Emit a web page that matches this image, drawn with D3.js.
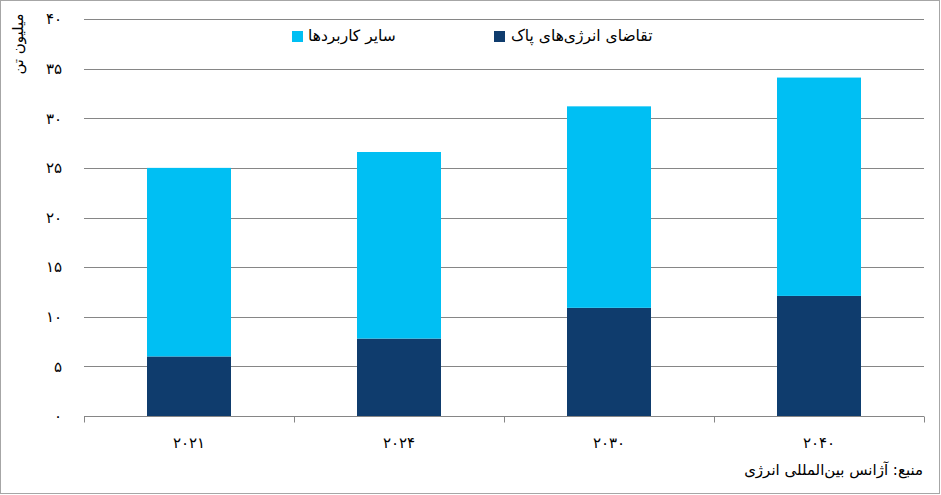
<!DOCTYPE html>
<html>
<head>
<meta charset="utf-8">
<script src="https://cdn.jsdelivr.net/npm/d3@7"></script>
<style>
  html, body { margin: 0; padding: 0; background: #fff; }
  svg { display: block; font-family: "DejaVu Sans", sans-serif; }
</style>
</head>
<body>
<svg id="chart" width="941" height="495"></svg>
<script>
// ---- data ----
const categories = ["2021", "2024", "2030", "2040"];
const cleanEnergy = [6.0, 7.8, 10.9, 12.1];     // تقاضای انرژی‌های پاک
const otherUses   = [19.0, 18.8, 20.3, 22.0];   // سایر کاربردها
const yTicks = [0, 5, 10, 15, 20, 25, 30, 35, 40];
const seriesNames = ["تقاضای انرژی‌های پاک", "سایر کاربردها"];
const yTitle = "میلیون تن";
const sourceText = "منبع: آژانس بین‌المللی انرژی";

const colors = { clean: "#0F3C6D", other: "#00BFF3" };
const faDigits = s => String(s).replace(/\d/g, d => "۰۱۲۳۴۵۶۷۸۹"[d]);

const svg = d3.select("#chart");
const W = 941, H = 495;
const m = { left: 84, right: 17, top: 19, bottom: 79 };

// border
svg.append("rect").attr("x", 0.5).attr("y", 0.5).attr("width", W - 2).attr("height", H - 2)
  .attr("fill", "#fff").attr("stroke", "#a6a6a6").attr("stroke-width", 1);

const x = d3.scaleBand().domain(categories)
  .range([m.left, W - m.right]).paddingInner(0.6).paddingOuter(0.3);
const y = d3.scaleLinear().domain([0, 40]).range([H - m.bottom, m.top]);

// gridlines
svg.append("g").selectAll("line").data(yTicks.filter(d => d > 0)).join("line")
  .attr("x1", m.left).attr("x2", W - m.right)
  .attr("y1", d => Math.round(y(d)) + 0.5).attr("y2", d => Math.round(y(d)) + 0.5)
  .attr("stroke", "#868686").attr("stroke-width", 1);

// y tick labels
svg.append("g").selectAll("text").data(yTicks).join("text")
  .attr("x", 62).attr("y", d => y(d)).attr("dy", "0.35em")
  .attr("text-anchor", "end").attr("font-size", 15).attr("fill", "#000")
  .text(d => faDigits(d));

// stacked bars
const rows = categories.map((c, i) => ({ cat: c, clean: cleanEnergy[i], other: otherUses[i] }));
const stack = d3.stack().keys(["clean", "other"])(rows);
svg.append("g").selectAll("g").data(stack).join("g")
  .attr("fill", d => colors[d.key])
  .selectAll("rect").data(d => d).join("rect")
  .attr("x", d => x(d.data.cat)).attr("width", x.bandwidth())
  .attr("y", d => y(d[1])).attr("height", d => y(d[0]) - y(d[1]));

// x axis
const xAxisY = Math.round(y(0)) + 0.5;
svg.append("line").attr("x1", m.left).attr("x2", W - m.right)
  .attr("y1", xAxisY).attr("y2", xAxisY).attr("stroke", "#868686");
const step = x.step();
const boundaries = d3.range(categories.length + 1).map(i => m.left + i * step);
svg.append("g").selectAll("line").data(boundaries).join("line")
  .attr("x1", d => Math.round(d) + 0.5).attr("x2", d => Math.round(d) + 0.5)
  .attr("y1", xAxisY).attr("y2", xAxisY + 6).attr("stroke", "#868686");
svg.append("g").selectAll("text").data(categories).join("text")
  .attr("x", d => x(d) + x.bandwidth() / 2).attr("y", 443).attr("dy", "0.35em")
  .attr("text-anchor", "middle").attr("font-size", 15).attr("letter-spacing", 2)
  .text(d => faDigits(d));

// y title
svg.append("text").attr("transform", "translate(18,44) rotate(-90)")
  .attr("text-anchor", "middle").attr("dy", "0.35em").attr("font-size", 15)
  .attr("direction", "rtl").text(yTitle);

// legend
const legend = [
  { name: seriesNames[1], color: colors.other, sx: 292, tx: 308 },
  { name: seriesNames[0], color: colors.clean, sx: 494, tx: 511 }
];
const lg = svg.append("g").selectAll("g").data(legend).join("g");
lg.append("rect").attr("x", d => d.sx).attr("y", 31).attr("width", 11).attr("height", 11)
  .attr("fill", d => d.color);
lg.append("text").attr("x", d => d.tx).attr("y", 36).attr("dy", "0.35em")
  .attr("text-anchor", "start").attr("font-size", 15.5).text(d => d.name);

// source
svg.append("text").attr("x", 923).attr("y", 470).attr("dy", "0.35em")
  .attr("text-anchor", "end").attr("font-size", 15).text(sourceText);
</script>
</body>
</html>
